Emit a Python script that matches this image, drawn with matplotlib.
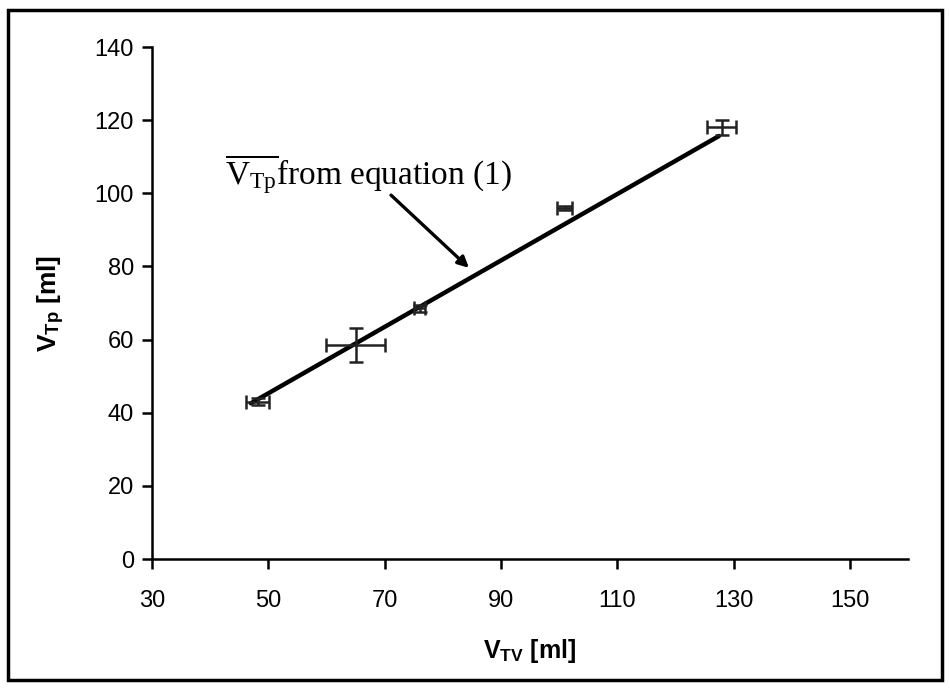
import matplotlib
matplotlib.use("Agg")
import matplotlib.pyplot as plt
from matplotlib.patches import Rectangle

plt.rcParams['mathtext.fontset'] = 'custom'
plt.rcParams['mathtext.rm'] = 'Liberation Serif'
plt.rcParams['mathtext.it'] = 'Liberation Serif:italic'
plt.rcParams['mathtext.bf'] = 'Liberation Serif:bold'

# data
vtv = [48.2, 65.0, 76.0, 101.0, 128.0]
vtp = [43.0, 58.5, 68.5, 96.0, 118.0]
vtv_err = [2.0, 5.0, 1.0, 1.3, 2.5]
vtp_err = [1.0, 4.7, 1.0, 0.6, 2.0]
fit_x = [47.0, 127.5]
fit_slope = 0.908
fit_intercept = -0.1
x_ticks = [30, 50, 70, 90, 110, 130, 150]
y_ticks = [0, 20, 40, 60, 80, 100, 120, 140]

fig = plt.figure(figsize=(9.5, 6.9), dpi=100)
ax = fig.add_axes([152/950, 1-559/690, (908-152)/950, (559-47)/690])

fit_y = [fit_slope*x + fit_intercept for x in fit_x]
ax.plot(fit_x, fit_y, color='black', lw=3.2, solid_capstyle='round', zorder=2)
ax.errorbar(vtv, vtp, xerr=vtv_err, yerr=vtp_err, fmt='none', ecolor='#222222',
            elinewidth=1.8, capsize=5, capthick=1.8, zorder=3)

ax.set_xlim(30, 160)
ax.set_ylim(0, 140)
ax.set_xticks(x_ticks)
ax.set_yticks(y_ticks)
for s in ['top', 'right']:
    ax.spines[s].set_visible(False)
for s in ['left', 'bottom']:
    ax.spines[s].set_linewidth(1.8)
ax.tick_params(axis='both', direction='out', length=7, width=1.8, labelsize=17)
ax.tick_params(axis='x', pad=15)
ax.tick_params(axis='y', pad=6)
for lab in ax.get_xticklabels() + ax.get_yticklabels():
    lab.set_family('Liberation Sans')

ax.set_xlabel(r'V$_{\mathregular{TV}}$ [ml]', fontsize=18, fontweight='bold',
              family='Liberation Sans', labelpad=18)
ax.set_ylabel(r'V$_{\mathregular{Tp}}$ [ml]', fontsize=19, fontweight='bold',
              family='Liberation Sans', labelpad=20)

ax.text(42.5, 105.2, r'$\overline{\mathrm{V}_{\mathrm{Tp}}}$from equation (1)',
        fontsize=24, family='Liberation Serif', va='center', ha='left')
ax.annotate('', xy=(84.5, 79.6), xytext=(71.1, 99.5),
            arrowprops=dict(arrowstyle='-|>', color='black', lw=2.4,
                            mutation_scale=16, shrinkA=0, shrinkB=0))

fig.patches.append(Rectangle((8/950, 10/690), 934/950, 670/690, transform=fig.transFigure,
                             fill=False, edgecolor='black', lw=2.5))

fig.savefig('out.png', dpi=100)
